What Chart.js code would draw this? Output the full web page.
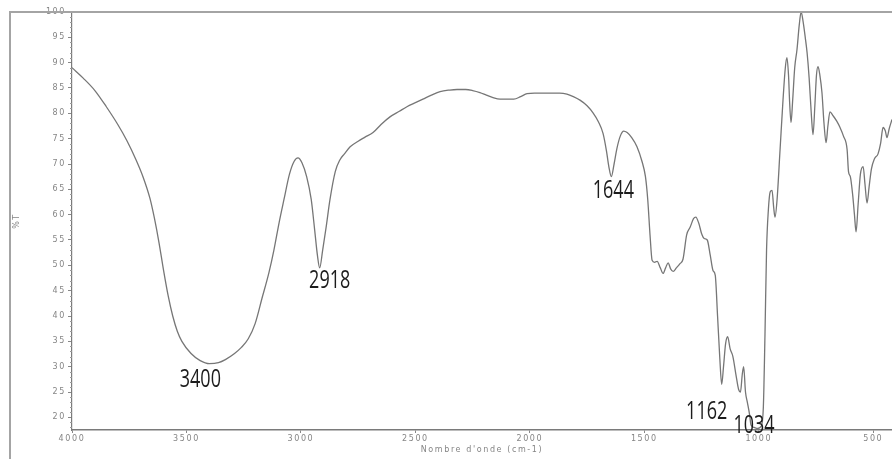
<!DOCTYPE html>
<html>
<head>
<meta charset="utf-8">
<script src="https://cdn.jsdelivr.net/npm/chart.js@4.4.1/dist/chart.umd.min.js"></script>
<style>
  html, body { margin: 0; padding: 0; background: #fff; }
  #wrap { width: 892px; height: 459px; }
</style>
</head>
<body>
<div id="wrap"><canvas id="irChart"></canvas></div>
<script>
// FTIR spectrum, wavenumber (cm-1) vs transmittance (%T)
const wavenumbers = [
  4000, 3950, 3900, 3850, 3800, 3760, 3720, 3690, 3660, 3640, 3620, 3600, 3580, 3560, 3540, 3520, 3480, 3440, 3400,
  3360, 3330, 3290, 3260, 3230, 3200, 3170, 3140, 3118, 3095, 3074, 3050, 3030, 3013, 2995, 2975, 2955, 2940,
  2928, 2918, 2905, 2890, 2873, 2850, 2830, 2810, 2785, 2750, 2720, 2685, 2650, 2611, 2570, 2537, 2500, 2467,
  2430, 2392, 2350, 2318, 2280, 2250, 2218, 2190, 2161, 2130, 2100, 2070, 2040, 2012, 1980, 1940, 1900, 1870,
  1838, 1810, 1781, 1750, 1724, 1700, 1680, 1665, 1655, 1644, 1632, 1620, 1605, 1590, 1575, 1555, 1532, 1510,
  1495, 1485, 1475, 1466, 1455, 1444, 1430, 1418, 1407, 1396, 1385, 1374, 1360, 1345, 1331, 1315, 1300, 1285,
  1275, 1262, 1250, 1238, 1225, 1212, 1200, 1190, 1180, 1170, 1162, 1154, 1145, 1136, 1125, 1113, 1100, 1088,
  1080, 1072, 1066, 1058, 1050, 1040, 1034, 1020, 1005, 990, 980, 973, 966, 958, 950, 942, 935, 929,
  920, 907, 894, 884, 877, 870, 865, 859, 852, 843, 833, 823, 815, 806, 797, 789, 780, 770,
  763, 755, 748, 741, 733, 724, 715, 706, 698, 689, 675, 660, 645, 630, 614, 608, 600, 590,
  582, 575, 566, 556, 544, 536, 527, 518, 508, 495, 479, 468, 457, 447, 440, 430, 418
];
const transmittance = [
  89.0, 86.9, 84.5, 81.3, 77.8, 74.6, 70.8, 67.5, 63.3, 59.3, 54.5, 49.0, 44.0, 40.0, 37.0, 35.0, 32.6, 31.2, 30.6,
  30.8, 31.4, 32.6, 33.8, 35.5, 38.5, 43.5, 48.5, 53.0, 58.5, 63.0, 68.0, 70.5, 71.2, 70.2, 67.5, 63.0, 57.0,
  52.0, 49.5, 53.0, 57.5, 63.0, 68.5, 70.8, 72.0, 73.4, 74.5, 75.3, 76.2, 77.8, 79.3, 80.4, 81.3, 82.1, 82.8,
  83.6, 84.3, 84.6, 84.7, 84.7, 84.5, 84.1, 83.6, 83.1, 82.8, 82.8, 82.8, 83.3, 83.9, 84.0, 84.0, 84.0, 84.0,
  83.8, 83.3, 82.6, 81.5, 80.1, 78.3, 76.0, 72.5, 69.5, 67.5, 70.0, 73.0, 75.5, 76.5, 76.2, 75.2, 73.4, 70.5,
  67.5, 63.0, 56.0, 51.0, 50.6, 50.8, 49.5, 48.4, 49.5, 50.5, 49.3, 48.8, 49.5, 50.3, 51.2, 56.0, 57.5, 59.2,
  59.5, 58.3, 56.3, 55.3, 55.0, 52.0, 49.0, 48.0, 40.0, 31.5, 26.5, 30.0, 34.5, 35.9, 33.5, 32.0, 28.5, 25.5,
  25.0, 28.5, 30.0, 25.0, 23.0, 20.5, 18.5, 18.0, 17.8, 18.2, 22.0, 36.0, 53.0, 61.0, 64.5, 64.8, 61.5, 59.5,
  63.0, 72.8, 82.7, 89.0, 91.0, 87.5, 82.0, 78.2, 82.5, 89.0, 92.6, 97.5, 100.0, 98.0, 95.0, 92.0, 87.0, 79.5,
  75.8, 81.5, 87.5, 89.2, 87.5, 84.1, 78.0, 74.2, 77.5, 80.3, 79.5, 78.5, 77.2, 75.5, 72.8, 68.5, 67.5, 64.0,
  60.0, 56.6, 62.0, 68.0, 69.5, 66.0, 62.3, 65.5, 69.0, 71.0, 72.0, 74.0, 77.2, 76.5, 75.2, 77.0, 78.8
];

const xTicks = [4000, 3500, 3000, 2500, 2000, 1500, 1000, 500];
const yTicks = [20, 25, 30, 35, 40, 45, 50, 55, 60, 65, 70, 75, 80, 85, 90, 95, 100];

// band positions written on the spectrum
const peakLabels = [3400, 2918, 1644, 1162, 1034];
// text centre relative to the band minimum, in px
const labelOffsets = [[-9, 16], [10, 13], [2, 14], [-15, 28], [3, 1]];

const points = wavenumbers.map((w, i) => ({ x: w, y: transmittance[i] }));

const axisFont = { family: 'DejaVu Sans', size: 8 };
const axisGray = '#858585';

// outer frame and the small minor ticks on the %T axis
const framePlugin = {
  id: 'frame',
  beforeDraw(chart) {
    chart.ctx.letterSpacing = '1.6px';
  },
  afterDraw(chart) {
    const { ctx, chartArea, scales } = chart;
    ctx.save();
    ctx.letterSpacing = '0px';
    ctx.strokeStyle = '#a4a4a4';
    ctx.lineWidth = 2;
    ctx.beginPath();
    ctx.moveTo(10, chart.height);
    ctx.lineTo(10, chartArea.top);
    ctx.lineTo(chart.width, chartArea.top);
    ctx.stroke();

    ctx.strokeStyle = '#999';
    ctx.lineWidth = 1;
    ctx.beginPath();
    for (let v = 18; v < 100; v++) {
      if (v % 5 === 0) continue;
      const y = Math.round(scales.y.getPixelForValue(v)) + 0.5;
      ctx.moveTo(chartArea.left - 2, y);
      ctx.lineTo(chartArea.left, y);
    }
    ctx.stroke();
    ctx.restore();
  }
};

// band labels
const peakPlugin = {
  id: 'peaks',
  afterDatasetsDraw(chart) {
    const { ctx, scales } = chart;
    ctx.save();
    ctx.letterSpacing = '0px';
    ctx.fillStyle = '#1c1c1c';
    ctx.font = '18px "Open Sans"';
    ctx.textAlign = 'center';
    ctx.textBaseline = 'middle';
    peakLabels.forEach((w, i) => {
      const idx = wavenumbers.indexOf(w);
      const px = scales.x.getPixelForValue(w) + labelOffsets[i][0];
      const py = scales.y.getPixelForValue(transmittance[idx]) + labelOffsets[i][1];
      ctx.save();
      ctx.translate(px, py);
      ctx.scale(1, 1.38);
      ctx.fillText(String(w), 0, 0);
      ctx.restore();
    });
    ctx.restore();
  },
  afterDraw(chart) {
    chart.ctx.letterSpacing = '0px';
  }
};

const ctx = document.getElementById('irChart').getContext('2d');
new Chart(ctx, {
  type: 'line',
  data: {
    datasets: [{
      data: points,
      borderColor: '#767676',
      borderWidth: 1.3,
      pointRadius: 0,
      cubicInterpolationMode: 'monotone',
      fill: false
    }]
  },
  options: {
    responsive: true,
    maintainAspectRatio: false,
    animation: false,
    parsing: false,
    layout: { padding: { left: 10, top: 12, right: 0, bottom: 0 } },
    plugins: {
      legend: { display: false },
      tooltip: { enabled: false }
    },
    scales: {
      x: {
        type: 'linear',
        reverse: true,
        min: 418,
        max: 4000,
        afterBuildTicks: (scale) => { scale.ticks = xTicks.map(v => ({ value: v })); },
        afterFit: (scale) => { scale.height = 29; },
        grid: { drawOnChartArea: false, drawTicks: true, tickLength: 3, color: '#888' },
        border: { display: true, color: '#7a7a7a', width: 1.5 },
        ticks: {
          color: axisGray,
          font: axisFont,
          padding: 1,
          maxRotation: 0,
          autoSkip: false,
          callback: (v) => String(v)
        },
        title: {
          display: true,
          text: "Nombre d'onde (cm-1)",
          color: axisGray,
          font: axisFont,
          padding: { top: 0, bottom: 4 }
        }
      },
      y: {
        min: 17.5,
        max: 100,
        afterBuildTicks: (scale) => { scale.ticks = yTicks.map(v => ({ value: v })); },
        afterFit: (scale) => { scale.width = 62; },
        grid: { drawOnChartArea: false, drawTicks: true, tickLength: 4, color: '#888' },
        border: { display: true, color: '#7a7a7a', width: 1.2 },
        ticks: { color: axisGray, font: axisFont, padding: 2, autoSkip: false, callback: (v) => String(v) },
        title: {
          display: true,
          text: '%T',
          color: axisGray,
          font: axisFont,
          padding: { top: 2, bottom: 0 }
        }
      }
    }
  },
  plugins: [framePlugin, peakPlugin]
});
</script>
</body>
</html>
